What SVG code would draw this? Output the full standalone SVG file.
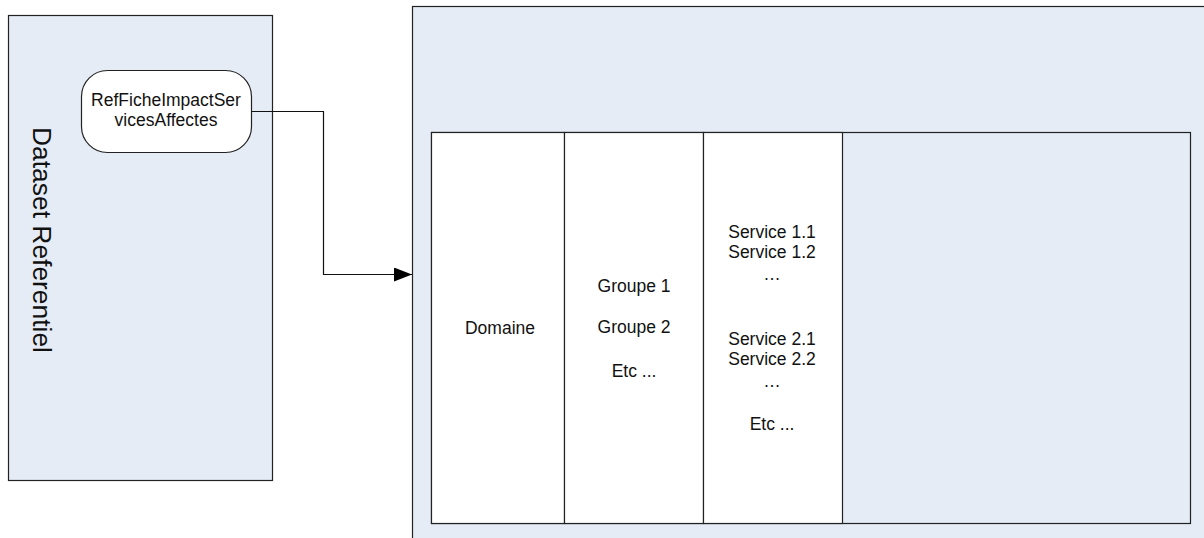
<svg xmlns="http://www.w3.org/2000/svg" width="1204" height="538" viewBox="0 0 1204 538">
<style>
.box{fill:#E5ECF6;stroke:#222;stroke-width:1.2}
.cell{fill:#FFFFFF;stroke:#222;stroke-width:1.2}
.t{font-family:"Liberation Sans",Arial,sans-serif;font-size:17.5px;fill:#111;text-anchor:middle}
.conn{fill:none;stroke:#111;stroke-width:1.2}
</style>
<defs>
<marker id="arr" markerWidth="18" markerHeight="14" refX="18" refY="7" orient="auto" markerUnits="userSpaceOnUse">
<path d="M0,0 L18,7 L0,14 Z" fill="#000"/>
</marker>
</defs>
<rect width="1204" height="538" fill="#FFFFFF"/>
<g id="dataset">
<rect class="box" x="8.5" y="15.5" width="264" height="465"/>
<text class="t" transform="translate(33,240) rotate(90)" style="font-size:26.4px">Dataset Referentiel</text>
</g>
<g id="refnode">
<rect class="cell" x="81.5" y="70.5" width="170" height="82" rx="26" ry="26"/>
<text class="t" x="166" y="106">RefFicheImpactSer</text>
<text class="t" x="166" y="126">vicesAffectes</text>
</g>
<g id="container">
<rect class="box" x="412.5" y="6.5" width="800" height="540"/>
</g>
<g id="table">
<rect class="box" x="431.5" y="132.5" width="759" height="391"/>
<rect class="cell" x="431.5" y="132.5" width="133" height="391"/>
<rect class="cell" x="564.5" y="132.5" width="139" height="391"/>
<rect class="cell" x="703.5" y="132.5" width="139" height="391"/>
</g>
<g id="domaine">
<text class="t" x="500" y="334">Domaine</text>
</g>
<g id="groupes">
<text class="t" x="634" y="292">Groupe 1</text>
<text class="t" x="634" y="333">Groupe 2</text>
<text class="t" x="634" y="377">Etc ...</text>
</g>
<g id="services">
<text class="t" x="772" y="238">Service 1.1</text>
<text class="t" x="772" y="258">Service 1.2</text>
<text class="t" x="772" y="280">…</text>
<text class="t" x="772" y="345">Service 2.1</text>
<text class="t" x="772" y="365">Service 2.2</text>
<text class="t" x="772" y="387">…</text>
<text class="t" x="772" y="430">Etc ...</text>
</g>
<g id="connectors">
<path class="conn" d="M251.5,111.5 H323.5 V274.5 H412" marker-end="url(#arr)"/>
</g>
</svg>
